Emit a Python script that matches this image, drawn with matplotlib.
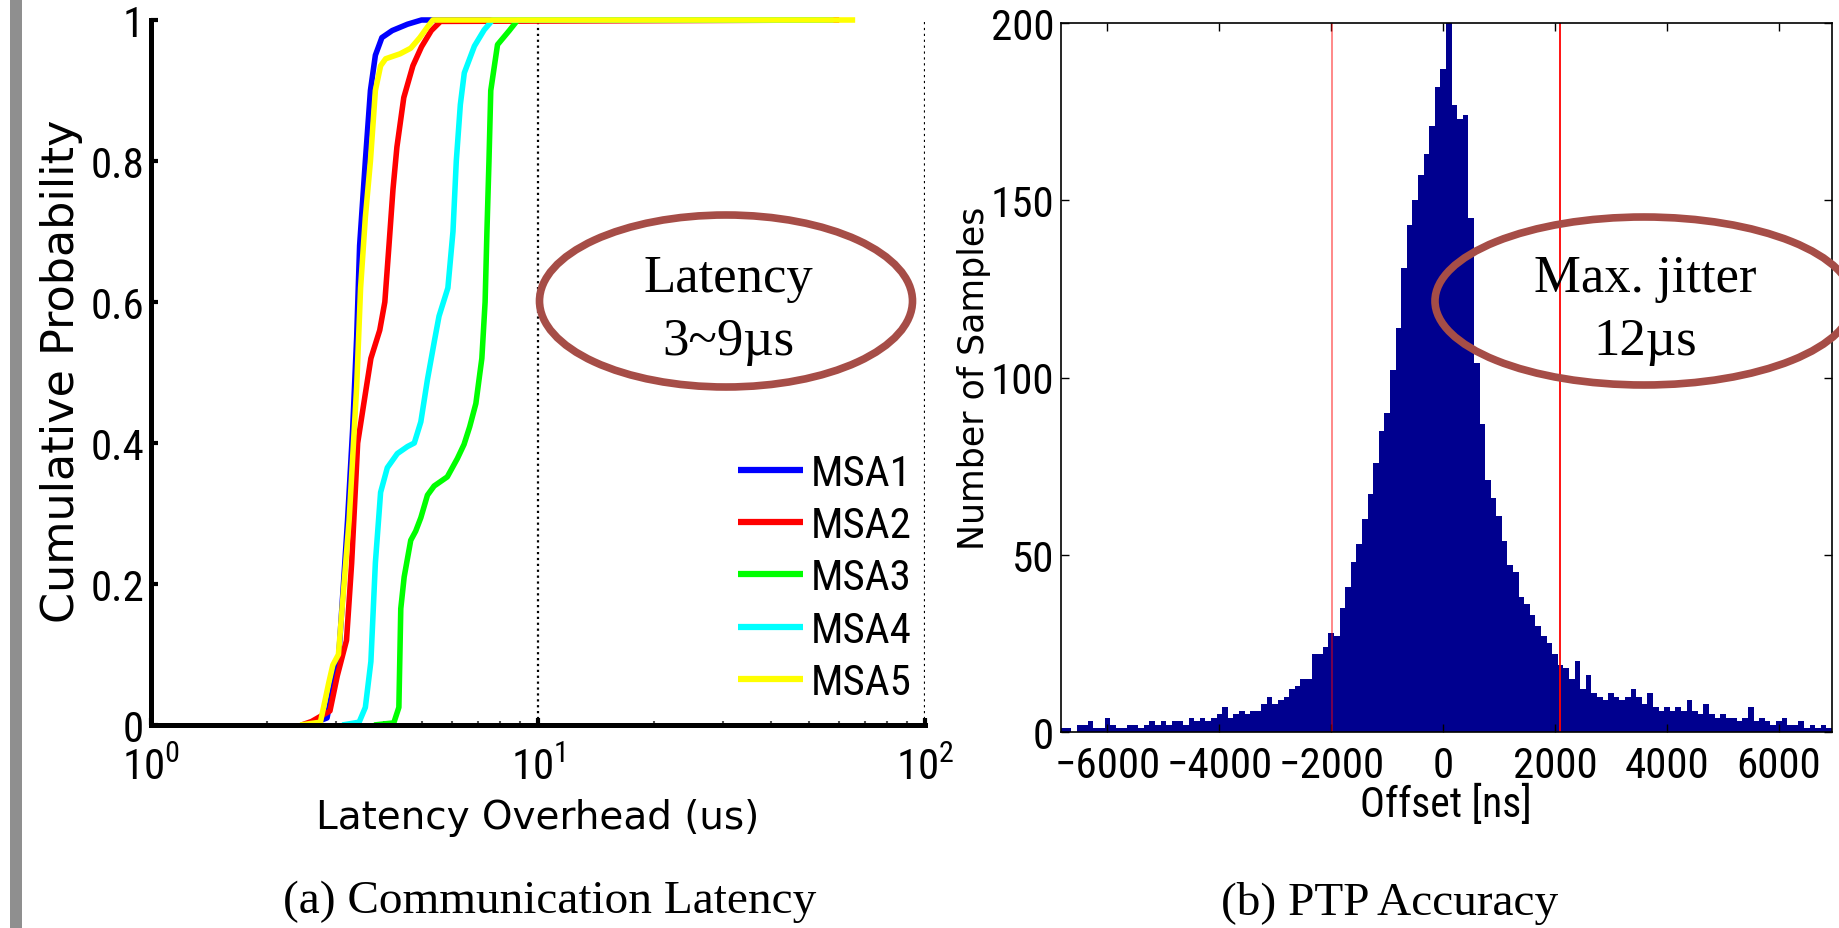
import matplotlib
matplotlib.use('Agg')
import matplotlib.pyplot as plt
from matplotlib.patches import Ellipse, Rectangle

# ---- panel (a): CDF of latency overhead ----
msa_names = ['MSA1', 'MSA2', 'MSA3', 'MSA4', 'MSA5']
msa_colors = ['#0000ff', '#ff0000', '#00ff00', '#00ffff', '#ffff00']

msa1_x = [2.55, 2.85, 2.97, 3.05, 3.22, 3.32, 3.40, 3.46, 3.58, 3.69, 3.80,
          3.95, 4.20, 4.60, 5.00, 52]
msa1_p = [0, 0.01, 0.06, 0.09, 0.29, 0.42, 0.55, 0.68, 0.80, 0.90, 0.95,
          0.975, 0.985, 0.994, 1.0, 1.0]

msa2_x = [2.45, 2.60, 2.90, 3.03, 3.20, 3.30, 3.42, 3.58, 3.70, 3.90, 4.02,
          4.12, 4.22, 4.32, 4.50, 4.75, 5.00, 5.30, 5.60, 60]
msa2_p = [0, 0.005, 0.02, 0.07, 0.12, 0.23, 0.40, 0.47, 0.52, 0.56, 0.60,
          0.68, 0.76, 0.82, 0.89, 0.935, 0.962, 0.985, 0.998, 1.0]

msa3_x = [3.77, 4.24, 4.37, 4.42, 4.51, 4.69, 4.83, 4.98, 5.18, 5.39, 5.83,
          6.19, 6.44, 6.66, 6.91, 7.08, 7.16, 7.30, 7.38, 7.47, 7.55, 7.86,
          8.43, 8.86, 55]
msa3_p = [0, 0.003, 0.025, 0.165, 0.21, 0.262, 0.275, 0.294, 0.326, 0.339,
          0.352, 0.378, 0.398, 0.423, 0.456, 0.50, 0.52, 0.60, 0.70, 0.80,
          0.90, 0.965, 0.985, 1.0, 1.0]

msa4_x = [3.12, 3.45, 3.58, 3.70, 3.80, 3.92, 4.08, 4.33, 4.60, 4.79, 4.98,
          5.18, 5.40, 5.55, 5.85, 6.03, 6.15, 6.30, 6.45, 6.85, 7.26, 7.63, 58]
msa4_p = [0, 0.004, 0.025, 0.09, 0.23, 0.33, 0.365, 0.385, 0.395, 0.40, 0.43,
          0.49, 0.545, 0.58, 0.62, 0.70, 0.80, 0.88, 0.925, 0.963, 0.986,
          1.0, 1.0]

msa5_x = [2.43, 2.74, 2.88, 2.95, 3.05, 3.25, 3.40, 3.48, 3.58, 3.69, 3.80,
          3.92, 4.04, 4.40, 4.69, 4.95, 5.18, 5.35, 66]
msa5_p = [0, 0.004, 0.06, 0.085, 0.10, 0.29, 0.48, 0.62, 0.72, 0.80, 0.90,
          0.935, 0.945, 0.952, 0.96, 0.975, 0.99, 1.0, 1.0]

latency_ticks = [1, 10, 100]
latency_ticklabels = [r'$\mathregular{10^{0}}$', r'$\mathregular{10^{1}}$',
                      r'$\mathregular{10^{2}}$']
prob_ticks = [0, 0.2, 0.4, 0.6, 0.8, 1]
prob_ticklabels = ['0', '0.2', '0.4', '0.6', '0.8', '1']

# ---- panel (b): PTP offset histogram, 100 ns bins (bin centres) ----
offset_bins = list(range(-6800, 7000, 100))
offset_counts = [
    1, 1, 0, 2, 2, 3, 1, 1, 4, 2,
    1, 1, 2, 2, 1, 2, 3, 2, 3, 2,
    3, 3, 2, 4, 3, 4, 3, 4, 5, 7,
    4, 5, 6, 5, 6, 6, 8, 10, 8, 9,
    10, 12, 13, 15, 15, 22, 22, 24, 28, 27,
    35, 41, 48, 53, 60, 67, 76, 85, 90, 102,
    114, 131, 143, 150, 157, 163, 171, 182, 187, 200,
    177, 173, 174, 145, 104, 87, 71, 66, 61, 54,
    47, 45, 38, 36, 33, 30, 27, 25, 22, 19,
    18, 15, 20, 12, 16, 11, 10, 9, 11, 10,
    9, 10, 12, 10, 8, 11, 7, 6, 7, 6,
    7, 6, 9, 6, 5, 8, 5, 4, 5, 4,
    4, 3, 4, 7, 3, 4, 3, 2, 3, 4,
    2, 2, 3, 1, 2, 1, 2, 1]
jitter_bounds = [-1990, 2090]
offset_ticks = [-6000, -4000, -2000, 0, 2000, 4000, 6000]
offset_ticklabels = ['\u22126000', '\u22124000', '\u22122000', '0', '2000',
                     '4000', '6000']
sample_ticks = [0, 50, 100, 150, 200]

W, H = 1839, 929
NARROW = ['Roboto Condensed', 'Liberation Sans Narrow', 'Liberation Sans',
          'DejaVu Sans']
WIDE = ['DejaVu Sans']
SERIF = ['Liberation Serif', 'DejaVu Serif']


def fx(px):
    return px / W


def fy(px):
    return 1 - px / H


def plot_latency(fig):
    ax = fig.add_axes([fx(151), fy(726), fx(925) - fx(151), fy(21) - fy(726)])
    curves = [(msa1_x, msa1_p), (msa2_x, msa2_p), (msa3_x, msa3_p),
              (msa4_x, msa4_p), (msa5_x, msa5_p)]
    for (xs, ps), name, col in zip(curves, msa_names, msa_colors):
        ax.plot(xs, ps, color=col, lw=4, label=name, clip_on=False,
                solid_capstyle='butt', zorder=3)
    ax.set_xscale('log')
    ax.set_xlim(1, 100)
    ax.set_ylim(0, 1)
    ax.set_xticks(latency_ticks)
    ax.set_xticklabels(latency_ticklabels)
    ax.set_yticks(prob_ticks)
    ax.set_yticklabels(prob_ticklabels)
    for s in ['top', 'right']:
        ax.spines[s].set_visible(False)
    for s in ['left', 'bottom']:
        ax.spines[s].set_linewidth(3.6)
        ax.spines[s].set_zorder(4)
    ax.grid(axis='x', which='major', linestyle=':', color='k', lw=1.6)
    ax.tick_params(which='major', direction='in', length=5, width=3,
                   labelsize=31, pad=5)
    ax.tick_params(axis='x', which='major', pad=16)
    ax.tick_params(which='minor', direction='in', length=3, width=1.5,
                   color='#555555')
    for lab in ax.get_xticklabels() + ax.get_yticklabels():
        lab.set_family(NARROW)
    leg = ax.legend(loc='upper left', bbox_to_anchor=(fx(738), fy(454)),
                    bbox_transform=fig.transFigure, frameon=False,
                    borderpad=0, borderaxespad=0, handlelength=1.5,
                    handletextpad=0.2, labelspacing=0.26,
                    prop={'family': NARROW, 'size': 31})
    for line in leg.get_lines():
        line.set_linewidth(4.5)
    fig.text(fx(538), fy(818), 'Latency Overhead (us)', family=WIDE,
             size=28, ha='center', va='center')
    fig.text(fx(62), fy(371), 'Cumulative Probability', family=WIDE,
             size=32, ha='center', va='center', rotation=90)


def plot_offset(fig):
    ax = fig.add_axes([fx(1061), fy(733), fx(1832) - fx(1061),
                       fy(24) - fy(733)])
    ax.bar(offset_bins, offset_counts, width=100, color='#00008f',
           linewidth=0)
    ax.axvline(jitter_bounds[0], color='red', alpha=0.5, lw=1.3)
    ax.axvline(jitter_bounds[1], color='red', lw=1.3)
    ax.set_xlim(-6830, 6950)
    ax.set_ylim(0, 200)
    ax.set_xticks(offset_ticks)
    ax.set_xticklabels(offset_ticklabels)
    ax.set_yticks(sample_ticks)
    for s in ax.spines.values():
        s.set_linewidth(1.2)
    ax.tick_params(direction='in', length=6, width=1, top=True, right=True,
                   labelsize=31, pad=5)
    ax.tick_params(axis='x', pad=9)
    for lab in ax.get_xticklabels() + ax.get_yticklabels():
        lab.set_family(NARROW)
    fig.text(fx(1446), fy(805), 'Offset [ns]', family=NARROW, size=30,
             ha='center', va='center')
    fig.text(fx(974), fy(378), 'Number of Samples', family=WIDE, size=25,
             ha='center', va='center', rotation=90)


def annotate(fig):
    """ellipses, captions and the grey page bar drawn in pixel space"""
    over = fig.add_axes([0, 0, 1, 1], zorder=10)
    over.set_xlim(0, W)
    over.set_ylim(H, 0)
    over.axis('off')
    over.patch.set_alpha(0)
    over.add_patch(Rectangle((10, 0), 12, H, color='#8f8f8f', lw=0))
    ring = '#a64d47'
    over.add_patch(Ellipse((726, 302), 373, 172, fill=False, ec=ring, lw=5.5))
    over.add_patch(Ellipse((1644, 302), 418, 168, fill=False, ec=ring,
                           lw=5.5))
    over.text(728, 292, 'Latency', family=SERIF, size=38, ha='center',
              va='baseline')
    over.text(728, 355, '3~9\u00b5s', family=SERIF, size=38, ha='center',
              va='baseline')
    over.text(1645, 292, 'Max. jitter', family=SERIF, size=38, ha='center',
              va='baseline')
    over.text(1645, 355, '12\u00b5s', family=SERIF, size=38, ha='center',
              va='baseline')
    over.text(550, 913, '(a) Communication Latency', family=SERIF, size=34,
              ha='center', va='baseline')
    over.text(1390, 915, '(b) PTP Accuracy', family=SERIF, size=34,
              ha='center', va='baseline')


def main():
    fig = plt.figure(figsize=(W / 100, H / 100), dpi=100)
    plot_latency(fig)
    plot_offset(fig)
    annotate(fig)
    fig.savefig('out.png', dpi=100)


if __name__ == "__main__":
    main()
